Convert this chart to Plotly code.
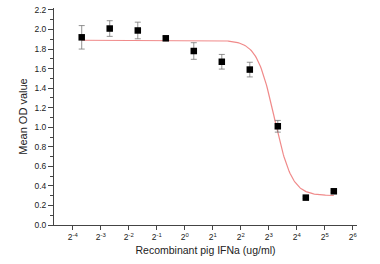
import numpy as np
import plotly.graph_objects as go

# concentrations (ug/ml)
conc = [0.078, 0.156, 0.3125, 0.625, 1.25, 2.5, 5, 10, 20, 40]
od_mean = [1.92, 2.01, 1.99, 1.91, 1.78, 1.67, 1.59, 1.01, 0.28, 0.345]
od_err = [0.12, 0.08, 0.085, 0.02, 0.085, 0.075, 0.075, 0.06, 0.01, 0.01]

# fitted logistic parameters
fit_top = 1.89
fit_bottom = 0.30
fit_log2_ec50 = 3.2
fit_slope = 3.2

tick_exps = list(range(-4, 7))
tick_text = ["2<sup>%d</sup>" % e for e in tick_exps]

xlog = np.log2(conc)
u = np.linspace(xlog[0], xlog[-1], 300)
fit_y = fit_bottom + (fit_top - fit_bottom) / (1 + np.exp(fit_slope * (u - fit_log2_ec50)))

fig = go.Figure()
fig.add_trace(go.Scatter(x=u, y=fit_y, mode="lines",
                         line=dict(color="#f08a8a", width=1.2), hoverinfo="skip"))
fig.add_trace(go.Scatter(x=xlog, y=od_mean, mode="markers",
                         marker=dict(symbol="square", size=6.5, color="black"),
                         error_y=dict(type="data", array=od_err, color="#777777",
                                      thickness=0.8, width=3)))

fam = "Liberation Sans, Arial, sans-serif"
axis_font = dict(family=fam, size=8.5, color="#222")
fig.update_layout(
    width=380, height=264,
    margin=dict(l=54, r=23, t=5, b=39),
    paper_bgcolor="white", plot_bgcolor="white",
    showlegend=False,
    xaxis=dict(range=[-4.67, 6.15], tickvals=tick_exps, ticktext=tick_text,
               showgrid=False, zeroline=False, showline=True, linecolor="#444",
               linewidth=1, ticks="outside", ticklen=4, tickcolor="#444",
               tickfont=axis_font,
               title=dict(text="Recombinant pig IFNa (ug/ml)",
                          font=dict(family=fam, size=10.5, color="#222"),
                          standoff=5)),
    yaxis=dict(range=[0, 2.22], tickvals=[round(0.2 * i, 1) for i in range(12)],
               tickformat=".1f", showgrid=False, zeroline=False, showline=True,
               linecolor="#444", linewidth=1, ticks="outside", ticklen=5, tickcolor="#444",
               tickfont=axis_font,
               minor=dict(dtick=0.1, ticks="outside", ticklen=3, tickcolor="#444"),
               title=dict(text="Mean OD value",
                          font=dict(family=fam, size=11, color="#222"),
                          standoff=4)),
)
fig.write_html("out.html")
